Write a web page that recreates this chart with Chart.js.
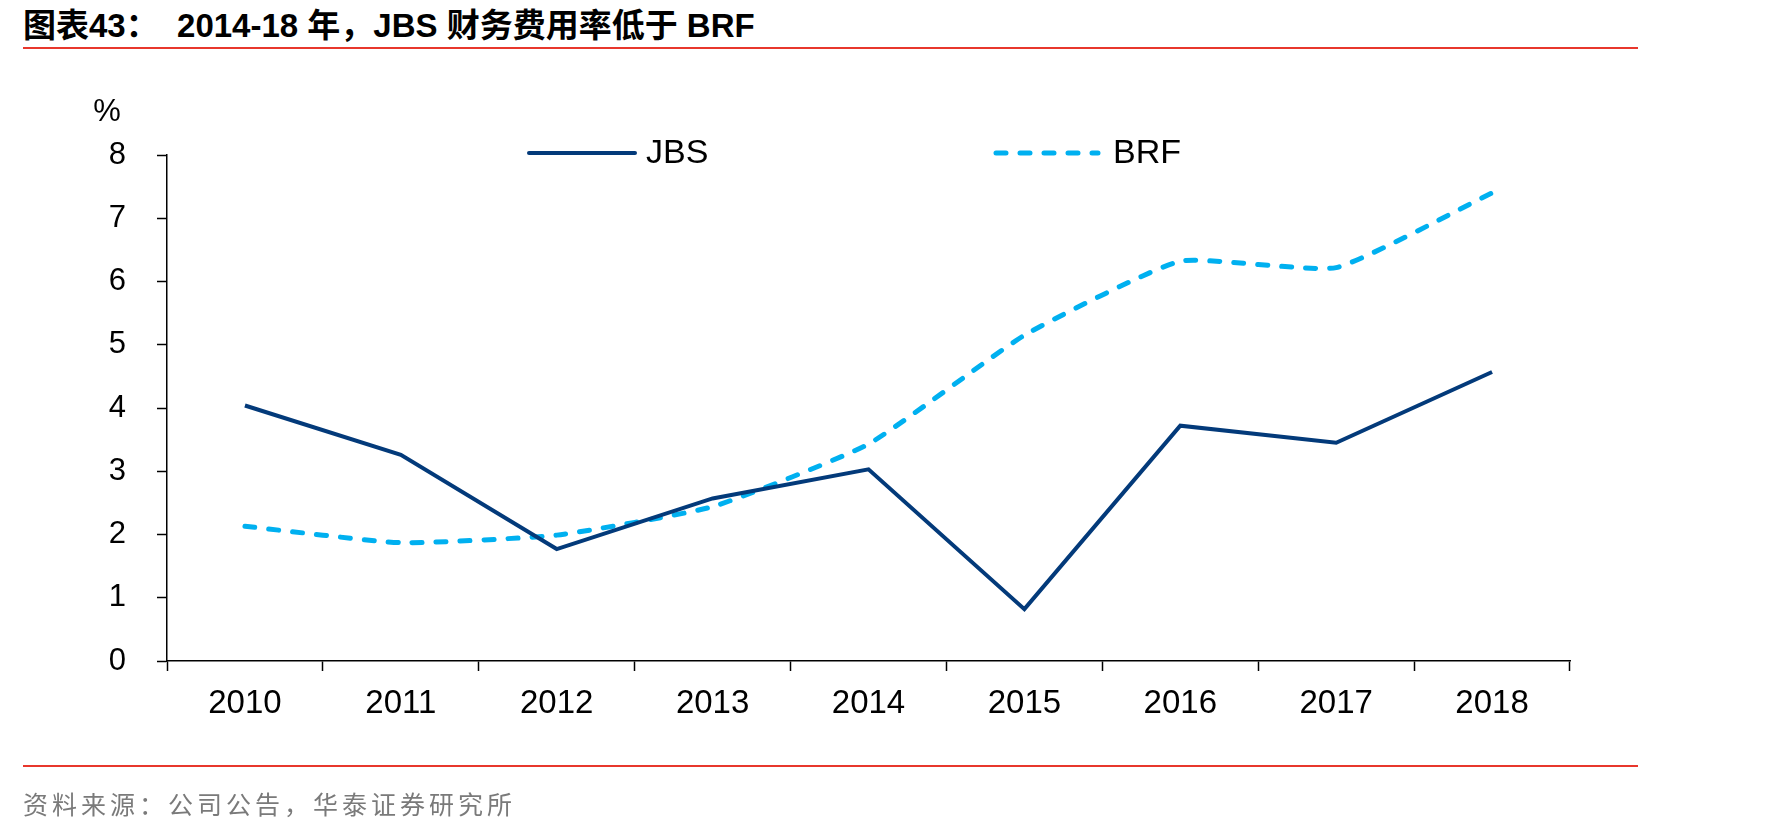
<!DOCTYPE html>
<html>
<head>
<meta charset="utf-8">
<script src="https://cdn.jsdelivr.net/npm/chart.js@4/dist/chart.umd.min.js"></script>
<style>
  html, body { margin: 0; padding: 0; background: #fff; }
  #page { position: relative; width: 1771px; height: 833px; overflow: hidden; }
  #chart { position: absolute; left: 0; top: 0; }
  .title {
    position: absolute; left: 23px; top: -1px; white-space: pre; line-height: 1;
    font: bold 33px "Liberation Sans", "Noto Sans CJK SC", sans-serif; color: #000;
  }
  .rule { position: absolute; left: 23px; width: 1615px; height: 2px; background: #e8372c; }
  .source {
    position: absolute; left: 23px; top: 785px; letter-spacing: 4px; line-height: 1;
    font: 25px "Noto Sans CJK SC", sans-serif; color: #7a7a7a;
  }
</style>
</head>
<body>
<div id="page">
  <div class="title">图表43：  2014-18 年，JBS 财务费用率低于 BRF</div>
  <div class="rule" style="top:47px"></div>
  <canvas id="chart" width="1771" height="833"></canvas>
  <div class="rule" style="top:765px"></div>
  <div class="source">资料来源：公司公告，华泰证券研究所</div>
</div>
<script>
// ========== DATA ==========
const years = ['2010', '2011', '2012', '2013', '2014', '2015', '2016', '2017', '2018'];
const jbsRate = [4.04, 3.26, 1.77, 2.57, 3.03, 0.82, 3.72, 3.45, 4.57];
const brfRate = [2.13, 1.87, 1.99, 2.44, 3.43, 5.15, 6.32, 6.22, 7.40];
const yTicks = [0, 1, 2, 3, 4, 5, 6, 7, 8];
const unitLabel = '%';

const FONT = '"Liberation Sans", Arial, sans-serif';
const NAVY = '#033a7a';
const SKY = '#00b0f0';

// legend + unit label drawn by hand so the spacing matches the report layout
const legendPlugin = {
    id: 'manualLegend',
    afterDraw(chart) {
        const ctx = chart.ctx;
        const items = [
            { ds: chart.data.datasets[0], x0: 529, x1: 635, tx: 646 },
            { ds: chart.data.datasets[1], x0: 996, x1: 1098, tx: 1113 }
        ];
        const y = 153;
        ctx.save();
        items.forEach(it => {
            ctx.beginPath();
            ctx.strokeStyle = it.ds.borderColor;
            ctx.lineWidth = it.ds.borderWidth;
            ctx.lineCap = 'round';
            ctx.setLineDash(it.ds.borderDash || []);
            ctx.moveTo(it.x0, y);
            ctx.lineTo(it.x1, y);
            ctx.stroke();
            ctx.setLineDash([]);
            ctx.fillStyle = '#000';
            ctx.font = '34px ' + FONT;
            ctx.textBaseline = 'middle';
            ctx.textAlign = 'left';
            ctx.fillText(it.ds.label, it.tx, y + 1);
        });
        ctx.font = '31px ' + FONT;
        ctx.textAlign = 'center';
        ctx.fillText(unitLabel, 107, 112);
        ctx.restore();
    }
};

new Chart(document.getElementById('chart'), {
    type: 'line',
    data: {
        labels: years,
        datasets: [
            { label: 'JBS', data: jbsRate, borderColor: NAVY, borderWidth: 4, pointRadius: 0, tension: 0, borderJoinStyle: 'miter' },
            { label: 'BRF', data: brfRate, borderColor: SKY, borderWidth: 5, borderDash: [10, 14], borderCapStyle: 'round', pointRadius: 0, tension: 0.15 }
        ]
    },
    options: {
        responsive: false, animation: false, devicePixelRatio: 1,
        layout: { padding: { top: 155, left: 0, right: 201, bottom: 92 } },
        plugins: { legend: { display: false }, tooltip: { enabled: false } },
        scales: {
            x: {
                offset: true,
                grid: { offset: true, drawOnChartArea: false, tickLength: 10, tickColor: '#000', tickWidth: 1.5 },
                border: { color: '#000', width: 1.5 },
                ticks: { color: '#000', font: { family: FONT, size: 33 }, padding: 13, maxRotation: 0 },
                afterFit: s => { s.height = 80; }
            },
            y: {
                min: 0, max: 8,
                afterBuildTicks: s => { s.ticks = yTicks.map(v => ({ value: v })); },
                grid: { drawOnChartArea: false, tickLength: 10, tickColor: '#000', tickWidth: 1.5 },
                border: { color: '#000', width: 1.5 },
                ticks: { color: '#000', font: { family: FONT, size: 31 }, padding: 31 },
                afterFit: s => { s.width = 167; }
            }
        }
    },
    plugins: [legendPlugin]
});
</script>
</body>
</html>
